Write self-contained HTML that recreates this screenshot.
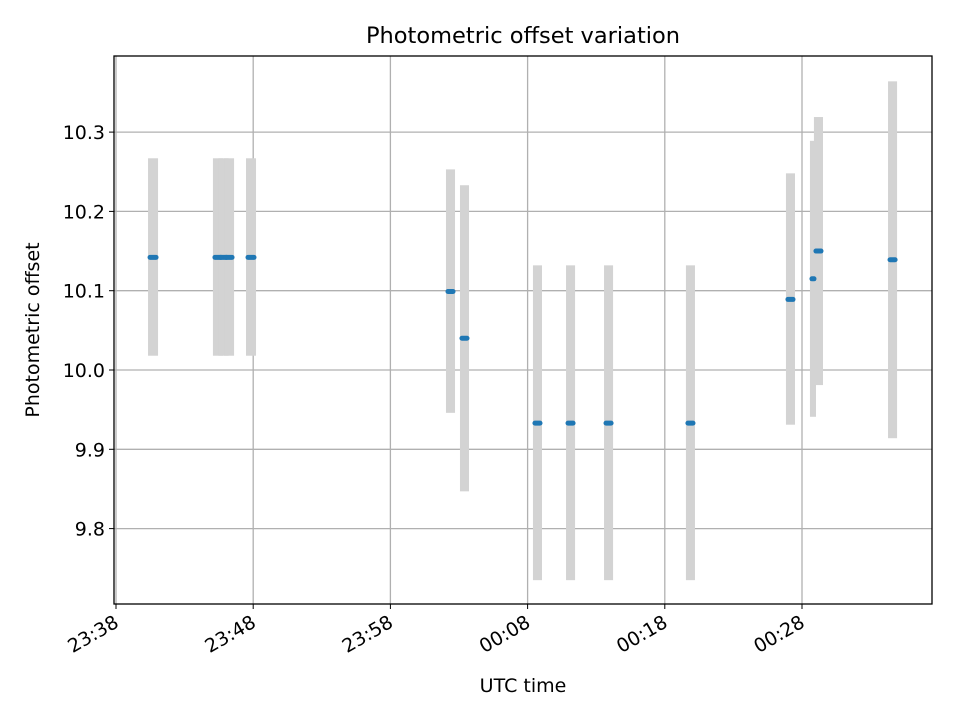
<!DOCTYPE html>
<html><head><meta charset="utf-8"><style>
body{margin:0;background:#fff}
svg text{font-family:"DejaVu Sans","Liberation Sans",sans-serif;fill:#000}
</style></head><body>
<svg id="c" width="960" height="720"></svg>
<script>
const times=[2.70,7.43,7.84,8.24,9.84,24.38,25.40,30.72,33.13,35.90,41.87,49.16,50.80,51.20,56.60];
const durations=[0.73,0.73,0.73,0.73,0.73,0.66,0.66,0.66,0.66,0.66,0.66,0.66,0.44,0.66,0.66];
const values=[10.142,10.142,10.142,10.142,10.142,10.099,10.040,9.933,9.933,9.933,9.933,10.089,10.115,10.150,10.139];
const lows=[10.018,10.018,10.018,10.018,10.018,9.946,9.847,9.735,9.735,9.735,9.735,9.931,9.941,9.981,9.914];
const highs=[10.267,10.267,10.267,10.267,10.267,10.253,10.233,10.132,10.132,10.132,10.132,10.248,10.289,10.319,10.364];
const yTicks=[9.8,9.9,10.0,10.1,10.2,10.3];
const xTicks=[0,10,20,30,40,50];
const xTickLabels=["23:38","23:48","23:58","00:08","00:18","00:28"];
const L=114,R=932,T=56,B=604;
const x=m=>116+m*13.72;
const y=v=>370-(v-10.0)*793;
const NS="http://www.w3.org/2000/svg",svg=document.getElementById('c');
function mk(tag,a,parent){const e=document.createElementNS(NS,tag);for(const k in a)e.setAttribute(k,a[k]);(parent||svg).appendChild(e);return e;}
const grid=mk('g',{});
yTicks.forEach(v=>{mk('line',{x1:L,x2:R,y1:y(v),y2:y(v),stroke:'#b0b0b0','stroke-width':1.3},grid);});
xTicks.forEach(m=>{mk('line',{x1:x(m),x2:x(m),y1:T,y2:B,stroke:'#b0b0b0','stroke-width':1.3},grid);});
const bars=mk('g',{});
times.forEach((t,i)=>{const w=durations[i]*13.72;const r=mk('rect',{x:x(t)-w/2,y:y(highs[i]),width:w,height:y(lows[i])-y(highs[i]),fill:'#d3d3d3'},bars);

});
const pts=mk('g',{});
times.forEach((t,i)=>{const w=durations[i]*13.72;const l=mk('line',{x1:x(t)-w/2+2,x2:x(t)+w/2-2,y1:y(values[i]),y2:y(values[i]),stroke:'#1f77b4','stroke-width':5,'stroke-linecap':'round'},pts);

});
const fr=mk('rect',{x:L,y:T,width:R-L,height:B-T,fill:'none',stroke:'#000','stroke-width':1.3});
yTicks.forEach(v=>{mk('line',{x1:L-5,x2:L,y1:y(v),y2:y(v),stroke:'#000'});
const tx=mk('text',{x:L-9,y:y(v)+7,'text-anchor':'end','font-size':19});tx.textContent=v.toFixed(1);

});
xTicks.forEach((m,i)=>{mk('line',{x1:x(m),x2:x(m),y1:B,y2:B+5,stroke:'#000'});
const ax=x(m)+4,ay=B+22;
const tx=mk('text',{x:ax,y:ay,'text-anchor':'end','font-size':19,transform:`rotate(-30 ${ax} ${ay})`});tx.textContent=xTickLabels[i];

});
const ti=mk('text',{x:523,y:43,'text-anchor':'middle','font-size':22.5});ti.textContent='Photometric offset variation';
const xt=mk('text',{x:523,y:692,'text-anchor':'middle','font-size':19});xt.textContent='UTC time';
const yt=mk('text',{x:39,y:330,'text-anchor':'middle','font-size':19,transform:'rotate(-90 39 330)'});yt.textContent='Photometric offset';
</script>
</body></html>
